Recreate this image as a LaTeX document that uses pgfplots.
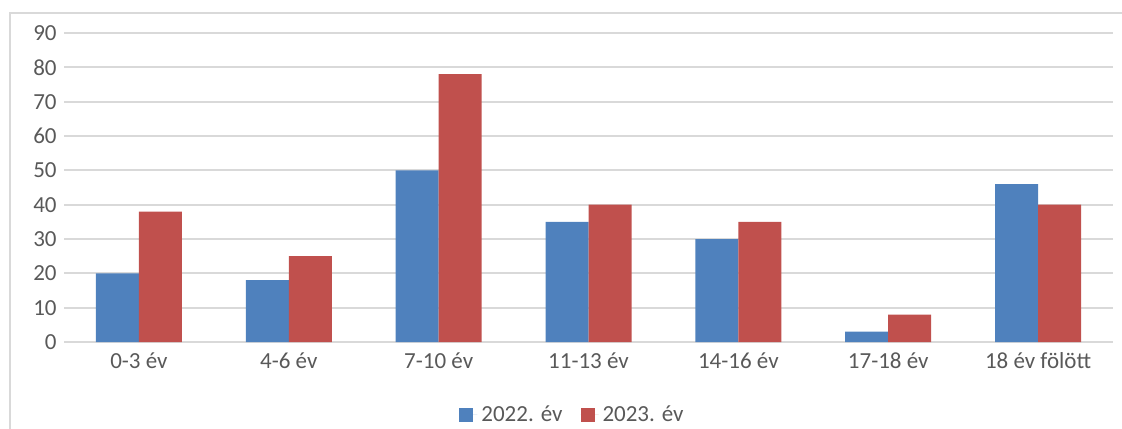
\documentclass[border=0pt]{standalone}
\usepackage{pgfplots}
\pgfplotsset{compat=1.18}
\usepackage{fontspec}
\setmainfont{Carlito}
\definecolor{kek}{HTML}{4F81BD}
\definecolor{piros}{HTML}{C0504D}
\definecolor{racs}{HTML}{D9D9D9}
\definecolor{szoveg}{HTML}{595959}
\begin{document}
\begin{tikzpicture}
\path[use as bounding box] (0pt,0pt) rectangle (561pt,-214pt);
\draw[racs, line width=1pt] (5pt,-6.5pt) rectangle (575pt,-230pt);
\begin{axis}[
  at={(32pt,-171pt)}, anchor=south west,
  scale only axis, width=524.5pt, height=154.5pt,
  ybar, ybar=0pt, bar width=21.5pt,
  xmin=-0.5, xmax=6.5, ymin=0, ymax=90,
  xtick={0,...,6},
  xticklabels={0-3 év, 4-6 év, 7-10 év, 11-13 év, 14-16 év, 17-18 év, 18 év fölött},
  ytick={0,10,...,90},
  axis lines=left, axis line style={draw=none},
  tick style={draw=none}, major tick length=0pt,
  ymajorgrids, major grid style={racs, line width=1pt},
  /pgf/number format/assume math mode=true,
  tick label style={font=\fontsize{11.5}{14}\selectfont, text=szoveg},
  xticklabel style={anchor=base, inner sep=0pt, yshift=-13pt},
  yticklabel style={anchor=east, inner sep=0pt, xshift=-3.5pt},
  legend style={at={(0.4857,-0.236)}, anchor=center, draw=none,
    legend columns=2, font=\fontsize{11.5}{14}\selectfont, text=szoveg,
    /tikz/every even column/.append style={column sep=7pt}},
  legend cell align=left,
  legend image code/.code={\fill[#1,draw=none] (0pt,-3.5pt) rectangle (7pt,3.5pt);
    \path (0pt,0pt) -- (9pt,0pt);},
]
\addplot[fill=kek, draw=none] coordinates {(0,20) (1,18) (2,50) (3,35) (4,30) (5,3) (6,46)};
\addplot[fill=piros, draw=none] coordinates {(0,38) (1,25) (2,78) (3,40) (4,35) (5,8) (6,40)};
\legend{2022. év, 2023. év}
\end{axis}
\end{tikzpicture}
\end{document}
